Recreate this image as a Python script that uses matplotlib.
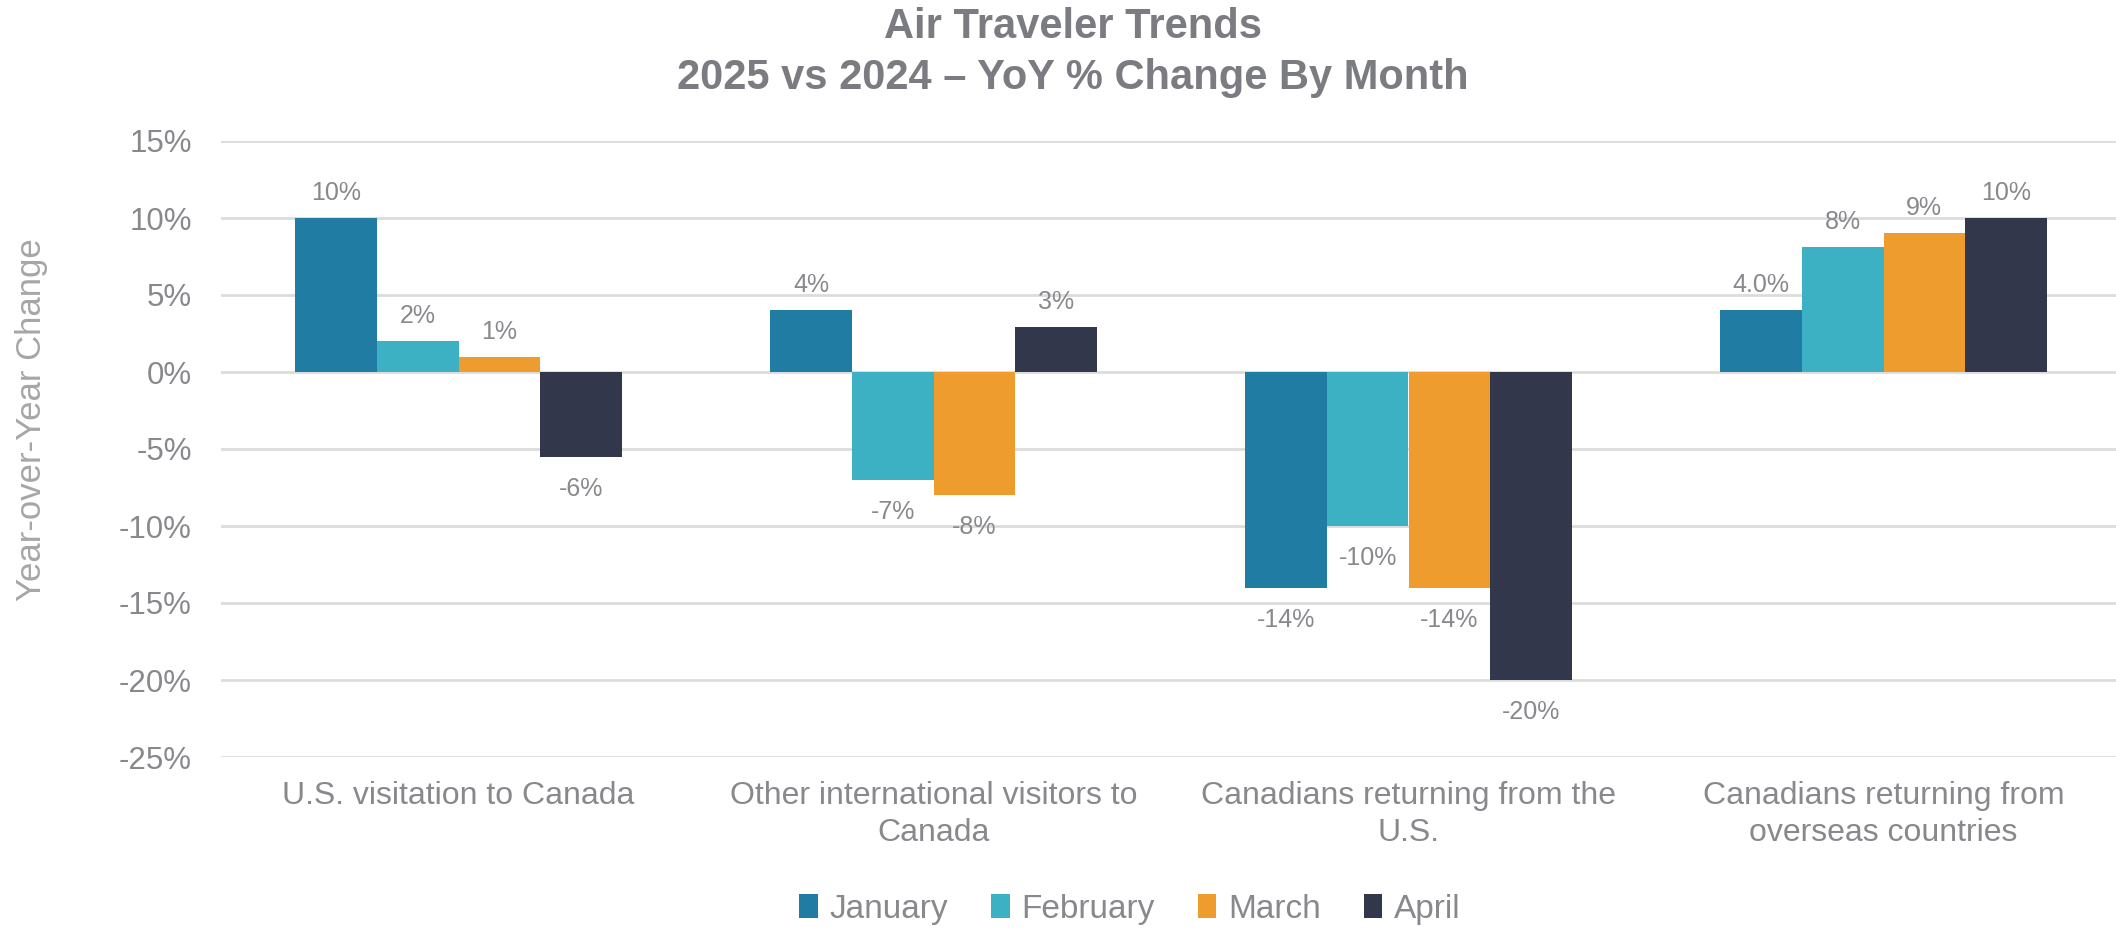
import numpy as np
import matplotlib.pyplot as plt
from matplotlib.patches import Patch

plt.rcParams['font.family'] = ['Liberation Sans', 'DejaVu Sans']

# chart data (YoY % change)
categories = ['U.S. visitation to Canada',
              'Other international visitors to\nCanada',
              'Canadians returning from the\nU.S.',
              'Canadians returning from\noverseas countries']
months = ['January', 'February', 'March', 'April']
january = [10, 4, -14, 4.0]
february = [2, -7, -10, 8.1]
march = [1, -8, -14, 9]
april = [-5.5, 2.9, -20, 10]
january_labels = ['10%', '4%', '-14%', '4.0%']
february_labels = ['2%', '-7%', '-10%', '8%']
march_labels = ['1%', '-8%', '-14%', '9%']
april_labels = ['-6%', '3%', '-20%', '10%']
y_ticks = [-25, -20, -15, -10, -5, 0, 5, 10, 15]

colors = ['#217ca3', '#3cb1c3', '#ee9c2e', '#32374b']
text_gray = '#88888d'

series = [january, february, march, april]
series_labels = [january_labels, february_labels, march_labels, april_labels]

W, H = 2116, 930
fig = plt.figure(figsize=(W / 100, H / 100), dpi=100)
ax = fig.add_axes([221 / W, 1 - 757 / H, (2121 - 221) / W, (757 - 141) / H])

x = np.arange(len(categories))
bw = 0.1716
for i, (vals, labs) in enumerate(zip(series, series_labels)):
    pos = x + (i - 1.5) * bw
    ax.bar(pos, vals, width=bw, color=colors[i], zorder=3)
    for px, v, lab in zip(pos, vals, labs):
        off = 18 if v >= 0 else -23
        ax.annotate(lab, (px, v), xytext=(0, off), textcoords='offset points',
                    ha='center', va='center', fontsize=18, color=text_gray)

ax.set_xlim(-0.5, 3.5)
ax.set_ylim(-25, 15)
ax.set_yticks(y_ticks)
ax.set_yticklabels([f'{t}%' for t in y_ticks])
ax.set_xticks(x)
ax.set_xticklabels(categories, linespacing=1.3)
ax.tick_params(axis='y', length=0, pad=21, labelsize=22.5, labelcolor=text_gray)
ax.tick_params(axis='x', length=0, pad=17, labelsize=23, labelcolor=text_gray)
ax.yaxis.grid(True, color='#dcdcdc', linewidth=2, zorder=0)
ax.set_axisbelow(True)
for s in ax.spines.values():
    s.set_visible(False)

fig.text(32 / W, 1 - 420 / H, 'Year-over-Year Change', rotation=90,
         ha='center', va='center', fontsize=25, color='#a6a6a6')

fig.text(1073 / W, 1 - 27 / H, 'Air Traveler Trends', ha='center', va='center',
         fontsize=30, fontweight='bold', color='#7b7b82')
fig.text(1073 / W, 1 - 78 / H, '2025 vs 2024 \u2013 YoY % Change By Month', ha='center',
         va='center', fontsize=30, fontweight='bold', color='#7b7b82')

handles = [Patch(facecolor=c, label=m) for c, m in zip(colors, months)]
fig.legend(handles=handles, loc='center', bbox_to_anchor=(1130 / W, 1 - 909 / H),
           ncol=4, frameon=False, fontsize=24, labelcolor=text_gray,
           handlelength=0.55, handleheight=0.7, handletextpad=0.35, columnspacing=1.3)

fig.savefig('out.png', dpi=100)
